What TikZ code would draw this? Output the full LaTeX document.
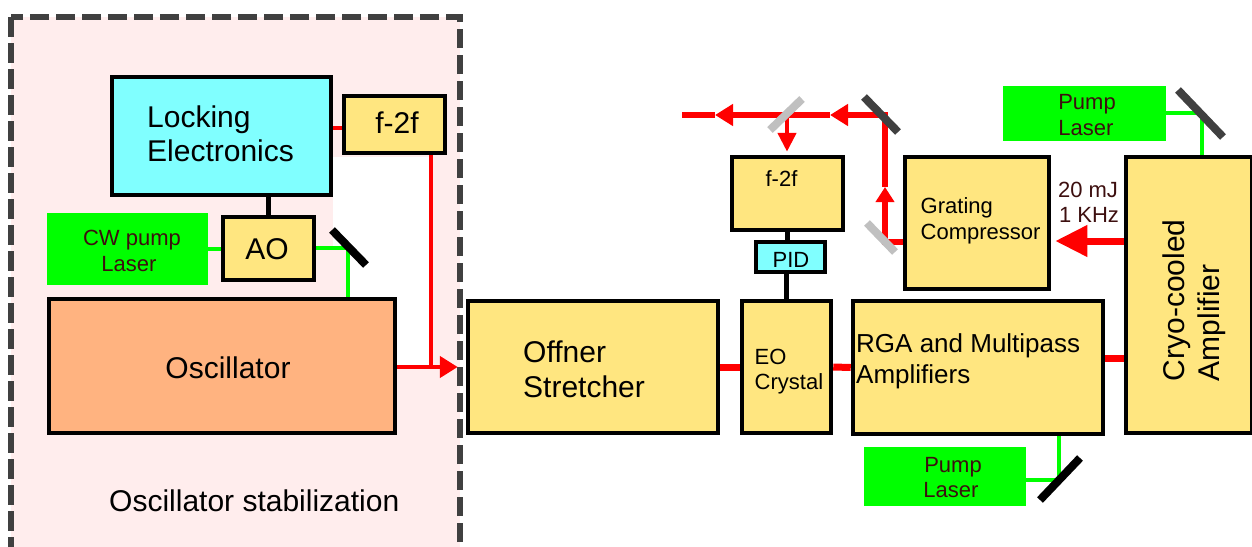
\documentclass[tikz,border=0pt]{standalone}
\usepackage{fontspec}
\setmainfont{Liberation Sans}
\usetikzlibrary{arrows.meta}
\definecolor{boxyellow}{HTML}{FFE680}
\definecolor{boxcyan}{HTML}{80FFFF}
\definecolor{boxorange}{HTML}{FFB380}
\definecolor{lasergreen}{HTML}{00FF00}
\definecolor{darktext}{HTML}{3D0F0F}
\definecolor{dashgray}{HTML}{404040}
\definecolor{splitgray}{HTML}{C0C0C0}
\definecolor{pinkbg}{HTML}{FFEDED}
\definecolor{beamred}{HTML}{FF0000}
\begin{document}
\begin{tikzpicture}[x=1pt,y=-1pt,
  blk/.style={draw=black, line width=4.5pt, inner sep=0pt, outer sep=2.25pt},
  laserbox/.style={fill=lasergreen, inner sep=0pt, outer sep=0pt},
  tbig/.style={font=\fontsize{30}{36}\selectfont, inner sep=0pt},
  tmid/.style={font=\fontsize{26}{31}\selectfont, inner sep=0pt},
  tsmall/.style={font=\fontsize{22}{26}\selectfont, inner sep=0pt},
  darkt/.style={text=darktext},
  redthin/.style={draw=beamred, line width=4.5pt},
  beamthick/.style={draw=beamred, line width=7pt},
  beamloop/.style={draw=beamred, line width=6pt, line join=miter},
  greenline/.style={draw=lasergreen, line width=4.5pt},
  conn/.style={draw=black, line width=4.5pt},
  mirrordark/.style={draw=dashgray, line width=8pt},
  mirrorblack/.style={draw=black, line width=8pt},
  splitter/.style={draw=splitgray, line width=8pt}
]
\useasboundingbox (0,0) rectangle (1252,546);
\clip (0,0) rectangle (1252,546);
\fill[white] (0,0) rectangle (1252,546);

% stabilization frame
\draw[draw=dashgray, line width=6pt, dash pattern=on 19.5pt off 6.5pt, fill=pinkbg] (11,17) rectangle (460,575);
\fill[white] (333,157) -- (431,157) -- (431,367) -- (348,367) -- (348,248) -- (333,248) -- cycle;

% boxes
\node[blk, fill=boxcyan, minimum width=219pt, minimum height=118pt] (LE) at (221.5,136) {};
\node[blk, fill=boxyellow, minimum width=101pt, minimum height=57pt] (F2L) at (394.5,124.5) {};
\node[blk, fill=boxyellow, minimum width=91pt, minimum height=63pt] (AO) at (268.5,248.5) {};
\node[blk, fill=boxorange, minimum width=346pt, minimum height=134pt] (OSC) at (222,366) {};
\node[laserbox, minimum width=161pt, minimum height=72pt] (CW) at (127.5,249) {};
\node[blk, fill=boxyellow, minimum width=250pt, minimum height=132pt] (OFF) at (593,367) {};
\node[blk, fill=boxyellow, minimum width=89pt, minimum height=132pt] (EO) at (786.5,367) {};
\node[blk, fill=boxyellow, minimum width=250pt, minimum height=133pt] (RGA) at (978,367.5) {};
\node[blk, fill=boxyellow, minimum width=126pt, minimum height=276pt] (CRYO) at (1189,295) {};
\node[blk, fill=boxyellow, minimum width=144pt, minimum height=132pt] (GC) at (977,223) {};
\node[blk, fill=boxyellow, minimum width=111pt, minimum height=73pt] (F2R) at (787.5,193.5) {};
\node[blk, fill=boxcyan, minimum width=69pt, minimum height=30pt] (PID) at (790.5,257) {};
\node[laserbox, minimum width=163pt, minimum height=55pt] (PT) at (1084.5,113.5) {};
\node[laserbox, minimum width=162pt, minimum height=59pt] (PB) at (945,476.5) {};

% left connectors
\coordinate (J) at (431,367);
\coordinate (M1) at (348,248);
\draw[redthin] ([yshift=-3.5pt]F2L.west -| LE.east) -- ([yshift=-3.5pt]F2L.west);
\draw[redthin] (J |- F2L.south) -- (J);
\draw[redthin, -{Triangle[length=18pt,width=21pt]}, shorten >=8pt] (OSC.east |- J) -- (J -| OFF.west);
\draw[conn] (AO.north) -- (AO.north |- LE.south);
\draw[greenline] (CW.east) -- (CW.east -| AO.west);
\draw[greenline] (AO.east |- M1) -- (M1) -- (M1 |- OSC.north);
\draw[mirrorblack] (332,230) -- (366,265);

% right connectors
\draw[beamthick] (OFF.east) -- (EO.west);
\draw[beamthick] (EO.east) -- (RGA.west);
\draw[beamthick] ([yshift=9.5pt]RGA.east) -- ([yshift=9.5pt]RGA.east -| CRYO.west);
\draw[beamthick, -{Triangle[length=32pt,width=30pt]}, shorten >=4pt] ([yshift=-18pt]GC.east -| CRYO.west) -- ([yshift=-18pt]GC.east);

\coordinate (K1) at (885,242);
\coordinate (U1) at (885,187);
\coordinate (K2) at (885,115);
\coordinate (L1) at (830,115);
\coordinate (L2) at (715,115);
\coordinate (BL) at (682,115);
\coordinate (S) at (787,115);
\draw[beamloop, -{Triangle[length=15pt,width=18pt]}] (GC.west |- K1) -- (K1) -- (U1);
\draw[beamloop, -{Triangle[length=18pt,width=21pt]}] (U1) -- (K2) -- (L1);
\draw[beamloop, -{Triangle[length=18pt,width=21pt]}] (L1) -- (L2);
\draw[beamloop] (L2) -- (BL);
\draw[redthin, -{Triangle[length=19pt,width=18pt]}, shorten >=3pt] (S) -- (S |- F2R.north);
\draw[conn] (F2R.south) -- (F2R.south |- PID.north);
\draw[conn] (PID.south -| EO.north) -- (EO.north);
\draw[mirrordark] (864,97) -- (898,132);
\draw[splitter] (770,130) -- (802,99);
\draw[splitter] (867,223) -- (895,252);

\coordinate (M3) at (1202,113);
\draw[greenline] (PT.east |- M3) -- (M3) -- (M3 |- CRYO.north);
\draw[mirrordark] (1178,90) -- (1223,137);
\coordinate (M4) at (1059,480);
\draw[greenline] (PB.east |- M4) -- (M4) -- (M4 |- RGA.south);
\draw[mirrorblack] (1040,500) -- (1080,458);

% texts
\node[tbig, anchor=base west] (LEa) at (147,127) {Locking};
\node[tbig, anchor=base west] (LEb) at (147,161) {Electronics};
\node[tbig, anchor=base] (F2La) at (397,133) {f-2f};
\node[tbig, anchor=base] (AOa) at (267,259) {AO};
\node[tsmall, darkt, anchor=base] (CWa) at (132,245) {CW pump};
\node[tsmall, darkt, anchor=base] (CWb) at (129,271) {Laser};
\node[tbig, anchor=base] (OSCa) at (228,378) {Oscillator};
\node[tbig, anchor=base west] (STAB) at (109,511) {Oscillator stabilization};
\node[tbig, anchor=base west] (OFFa) at (523,362) {Offner};
\node[tbig, anchor=base west] (OFFb) at (523,397) {Stretcher};
\node[tsmall, anchor=base west] (EOa) at (754.5,364) {EO};
\node[tsmall, anchor=base west] (EOb) at (754.5,389.5) {Crystal};
\node[tmid, anchor=base west] (RGAa) at (856,352.5) {RGA and Multipass};
\node[tmid, anchor=base west] (RGAb) at (856,383) {Amplifiers};
\node[tbig, rotate=90, anchor=base west] (CRa) at (1184,381.5) {Cryo-cooled};
\node[tbig, rotate=90, anchor=base west] (CRb) at (1219,381.5) {Amplifier};
\node[tsmall, anchor=base west] (GCa) at (920.5,213) {Grating};
\node[tsmall, anchor=base west] (GCb) at (920.5,239) {Compressor};
\node[tsmall, darkt, anchor=base] (ENa) at (1088,197) {20 mJ};
\node[tsmall, darkt, anchor=base] (ENb) at (1089,222) {1 KHz};
\node[tsmall, darkt, anchor=base] (PTa) at (1087,109) {Pump};
\node[tsmall, darkt, anchor=base] (PTb) at (1086,135) {Laser};
\node[tsmall, darkt, anchor=base] (PBa) at (953,472) {Pump};
\node[tsmall, darkt, anchor=base] (PBb) at (951,497) {Laser};
\node[tsmall, anchor=base] (F2Ra) at (781.5,186) {f-2f};
\node[tsmall, anchor=base] (PIDa) at (791,267) {PID};
\end{tikzpicture}
\end{document}
